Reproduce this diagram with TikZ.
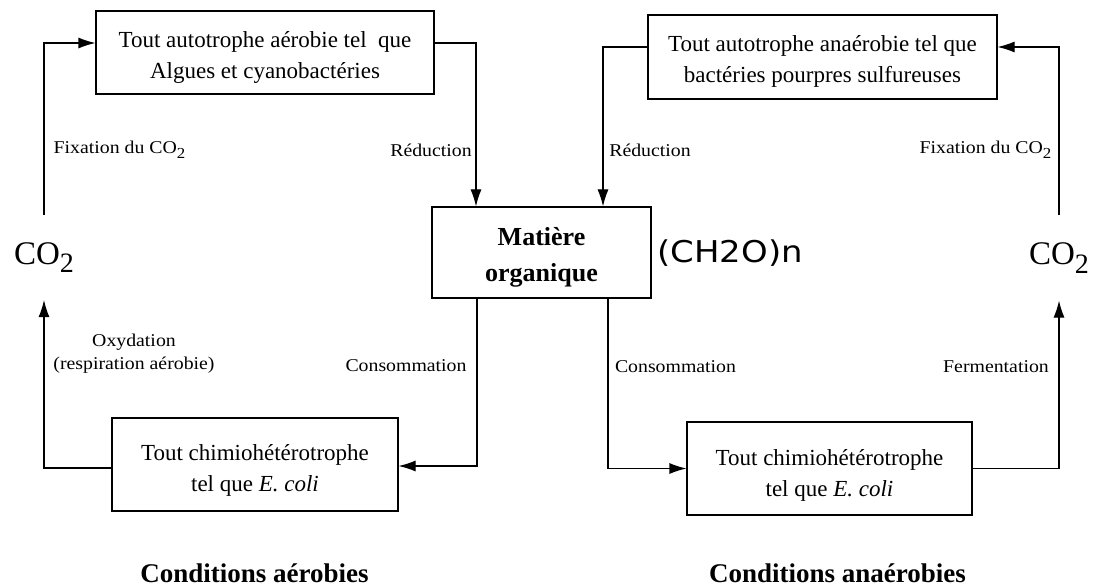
\documentclass[tikz,border=0pt]{standalone}
\usepackage{fontspec}
\usepackage{graphicx}
\setmainfont{Liberation Serif}
\newfontfamily\labfont{Liberation Serif}[FakeStretch=1.1]
\newfontfamily\sansf{DejaVu Sans}
\usetikzlibrary{arrows.meta}
\newcommand\subtwo{\raisebox{-0.25em}{\scalebox{0.85}{2}}}
\begin{document}
\begin{tikzpicture}[x=1pt,y=-1pt,
  line width=1.2pt,
  box/.style={draw, line width=1.2pt, rectangle, inner sep=0pt},
  btxt/.style={inner sep=0pt, align=center, font=\fontsize{23}{31}\selectfont},
  arr/.style={-{Latex[length=17pt,width=11pt]}},
  lab/.style={font=\labfont\fontsize{18}{23}\selectfont, align=center, inner sep=0pt},
  big/.style={font=\fontsize{33}{33}\selectfont, inner sep=0pt, minimum height=84pt},
  ttl/.style={font=\bfseries\fontsize{27}{27}\selectfont, inner sep=0pt}]
\fill[white] (0,0) rectangle (1095,588);
\useasboundingbox (0,0) rectangle (1095,588);

% boxes
\node[box, minimum width=338pt, minimum height=83pt] (A) at (265,52.5) {};
\node[btxt] (At) at (265,57) {Tout autotrophe aérobie tel\ \ que\\Algues et cyanobactéries};
\node[box, minimum width=349pt, minimum height=84pt] (B) at (822.5,57) {};
\node[btxt] (Bt) at (822.5,61) {Tout autotrophe anaérobie tel que\\bactéries pourpres sulfureuses};
\node[box, minimum width=219pt, minimum height=91pt] (M) at (541.5,252.5) {};
\node[btxt, font=\bfseries\fontsize{26}{36}\selectfont] (Mt) at (541.5,257.5) {Matière\\organique};
\node[box, minimum width=286pt, minimum height=93pt] (C) at (255,464.5) {};
\node[btxt] (Ct) at (255,470) {Tout chimiohétérotrophe\\tel que \textit{E. coli}};
\node[box, minimum width=285pt, minimum height=93pt] (D) at (829.5,468.5) {};
\node[btxt] (Dt) at (829.5,475) {Tout chimiohétérotrophe\\tel que \textit{E. coli}};

% CO2
\node[big] (CO2L) at (44,257.5) {CO\subtwo};
\node[big] (CO2R) at (1059,258) {CO\subtwo};

% formula
\node[anchor=west, inner sep=0pt, font=\sansf\fontsize{30}{30}\selectfont] (F) at (657,253)
  {\scalebox{1.13}[1]{(CH2O)n}};

% connectors
\draw[arr] (CO2L.north) |- ([yshift=9.5pt]A.west);
\draw[arr] ([yshift=9.5pt]A.east) -| ([xshift=-65.5pt]M.north);
\draw[arr] ([yshift=10pt]B.west) -| ([xshift=61.5pt]M.north);
\draw[arr] (CO2R.north) |- ([yshift=10pt]B.east);
\draw[arr] ([xshift=-64.5pt]M.south) |- ([yshift=-1.5pt]C.east);
\draw[arr] ([xshift=66.5pt]M.south) |- (D.west);
\draw[arr] ([yshift=-3.5pt]C.west) -| (CO2L.south);
\draw[arr] (D.east) -| (CO2R.south);

% labels
\node[lab] (l1) at (119.5,150) {Fixation du CO\subtwo};
\node[lab] (l2) at (431,150) {Réduction};
\node[lab] (l3) at (650,150) {Réduction};
\node[lab] (l4) at (985.5,150) {Fixation du CO\subtwo};
\node[lab] (l5) at (134,354) {Oxydation\\(respiration aérobie)};
\node[lab] (l6) at (406,366) {Consommation};
\node[lab] (l7) at (675.5,367) {Consommation};
\node[lab] (l8) at (996,367) {Fermentation};

% titles
\node[ttl] (t1) at (254.5,573) {Conditions aérobies};
\node[ttl] (t2) at (837.5,573) {Conditions anaérobies};
\end{tikzpicture}
\end{document}
